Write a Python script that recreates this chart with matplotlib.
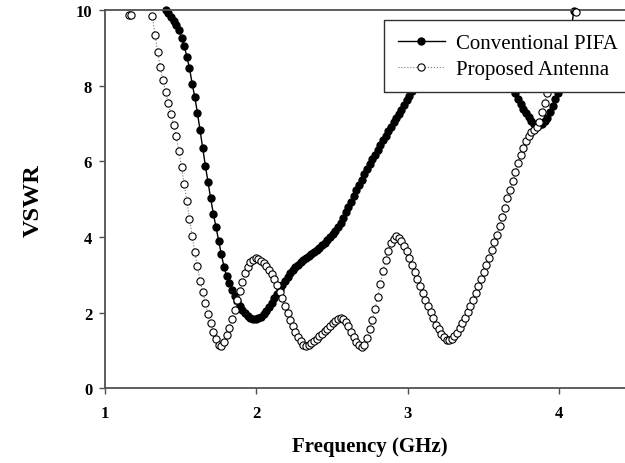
import numpy as np
import matplotlib
matplotlib.use('Agg')
import matplotlib.pyplot as plt
from matplotlib.lines import Line2D

nan = np.nan

# sweep de frequencia (GHz)
freq = np.round(1.1575 + 0.0175 * np.arange(170), 4)

# Conventional PIFA
conv_vswr = [nan] * 14 + [
    9.99, 9.91, 9.82, 9.72, 9.60, 9.46, 9.25, 9.06, 8.76, 8.47,
    8.05, 7.70, 7.28, 6.82, 6.35, 5.88, 5.45, 5.02, 4.62, 4.26,
    3.90, 3.55, 3.22, 2.97, 2.78, 2.60, 2.44, 2.30, 2.18, 2.08,
    1.99, 1.92, 1.87, 1.84, 1.83, 1.85, 1.90, 1.96, 2.04, 2.14,
    2.26, 2.38, 2.50, 2.62, 2.74, 2.85, 2.95, 3.04, 3.12, 3.20,
    3.27, 3.33, 3.39, 3.45, 3.50, 3.55, 3.60, 3.66, 3.72, 3.78,
    3.85, 3.92, 3.99, 4.07, 4.16, 4.26, 4.38, 4.50, 4.65, 4.80,
    4.94, 5.09, 5.24, 5.38, 5.52, 5.66, 5.80, 5.93, 6.05, 6.18,
    6.31, 6.43, 6.56, 6.68, 6.80, 6.92, 7.04, 7.15, 7.25, 7.36,
    7.50, 7.62, 7.74, 7.85, 7.96, 8.08,
] + [nan] * 35 + [
    8.00, 7.80, 7.65, 7.52, 7.39, 7.27, 7.16, 7.06, 6.99, 6.95,
    6.95, 6.99, 7.06, 7.15, 7.30, 7.47, 7.64, 7.82, 8.05, 8.35,
    8.70, 9.05, 9.45, 9.97,
] + [nan]

# Proposed Antenna
prop_vswr = [9.87, 9.86] + [nan] * 7 + [
    9.83, 9.35, 8.88, 8.49, 8.14, 7.83, 7.53, 7.26, 6.97, 6.66,
    6.27, 5.84, 5.40, 4.95, 4.48, 4.04, 3.61, 3.23, 2.85, 2.54,
    2.26, 1.97, 1.72, 1.48, 1.31, 1.15, 1.11, 1.22, 1.40, 1.61,
    1.84, 2.08, 2.35, 2.58, 2.82, 3.04, 3.22, 3.33, 3.40, 3.44,
    3.42, 3.37, 3.31, 3.23, 3.14, 3.02, 2.89, 2.73, 2.56, 2.38,
    2.19, 1.99, 1.82, 1.64, 1.48, 1.35, 1.25, 1.16, 1.11, 1.14,
    1.20, 1.26, 1.32, 1.38, 1.44, 1.51, 1.58, 1.65, 1.72, 1.78,
    1.83, 1.85, 1.83, 1.76, 1.64, 1.49, 1.36, 1.24, 1.14, 1.09,
    1.16, 1.33, 1.57, 1.82, 2.10, 2.42, 2.77, 3.10, 3.40, 3.64,
    3.84, 3.96, 4.02, 3.98, 3.89, 3.77, 3.62, 3.45, 3.27, 3.08,
    2.90, 2.71, 2.53, 2.35, 2.18, 2.01, 1.85, 1.69, 1.56, 1.44,
    1.35, 1.29, 1.28, 1.32, 1.38, 1.47, 1.59, 1.72, 1.86, 2.01,
    2.17, 2.34, 2.52, 2.70, 2.89, 3.08, 3.27, 3.46, 3.66, 3.86,
    4.06, 4.30, 4.54, 4.78, 5.02, 5.25, 5.48, 5.72, 5.95, 6.16,
    6.36, 6.53, 6.67, 6.77, 6.84, 6.90, 7.05, 7.30, 7.55, 7.80,
    8.10,
] + [nan] * 9 + [9.96]

x_ticks = [1, 2, 3, 4]
y_ticks = [0, 2, 4, 6, 8, 10]

plt.rcParams['font.family'] = ['Liberation Serif', 'DejaVu Serif']

fig = plt.figure(figsize=(6.25, 4.64), dpi=100)
ax = fig.add_axes([0.1675, 0.1606, 0.848, 0.8157])

ax.plot(freq, conv_vswr, color='black', lw=1.0, marker='o', ms=5,
        mfc='black', mec='black', label='Conventional PIFA', clip_on=False, zorder=2)
ax.plot(freq, prop_vswr, color='#777777', lw=0.8, ls=':', marker='o', ms=5.2,
        mfc='white', mec='black', mew=0.8, label='Proposed Antenna', clip_on=False, zorder=3)

ax.set_xlim(1, 4.5)
ax.set_ylim(0, 10)
ax.set_xticks(x_ticks)
ax.set_yticks(y_ticks)

# eixos
spine_c = '#505050'
for s in ['left', 'bottom', 'top']:
    ax.spines[s].set_color(spine_c)
    ax.spines[s].set_linewidth(1.3)
ax.spines['right'].set_visible(False)
ax.tick_params(direction='out', length=4, width=1, color=spine_c, labelsize=12)
ax.tick_params(axis='x', pad=8)
ax.tick_params(axis='y', pad=5)
for lbl in ax.get_xticklabels() + ax.get_yticklabels():
    lbl.set_fontweight('bold')

ax.set_xlabel('Frequency (GHz)', fontsize=15, fontweight='bold')
ax.set_ylabel('VSWR', fontsize=17.5, fontweight='bold')
ax.xaxis.set_label_coords(0.5, -0.125)
ax.yaxis.set_label_coords(-0.115, 0.5)

# legenda cortada pela borda direita, como no original
leg = ax.legend(loc='upper left', bbox_to_anchor=(0.527, 0.9736, 0.6, 0.0), mode='expand',
                borderaxespad=0, fontsize=15, handlelength=2.3, handletextpad=0.5,
                borderpad=0.65, labelspacing=0.3, fancybox=False, framealpha=1,
                edgecolor='none')

# moldura da legenda so com topo, esquerda e base (evita linha na borda da figura)
fig.canvas.draw()
bb = leg.get_window_extent().transformed(fig.transFigure.inverted())
frame = Line2D([bb.x1, bb.x0, bb.x0, bb.x1], [bb.y1, bb.y1, bb.y0, bb.y0],
               transform=fig.transFigure, color='#303030', lw=1.0, zorder=6)
fig.add_artist(frame)

fig.savefig('out.png', dpi=100)
